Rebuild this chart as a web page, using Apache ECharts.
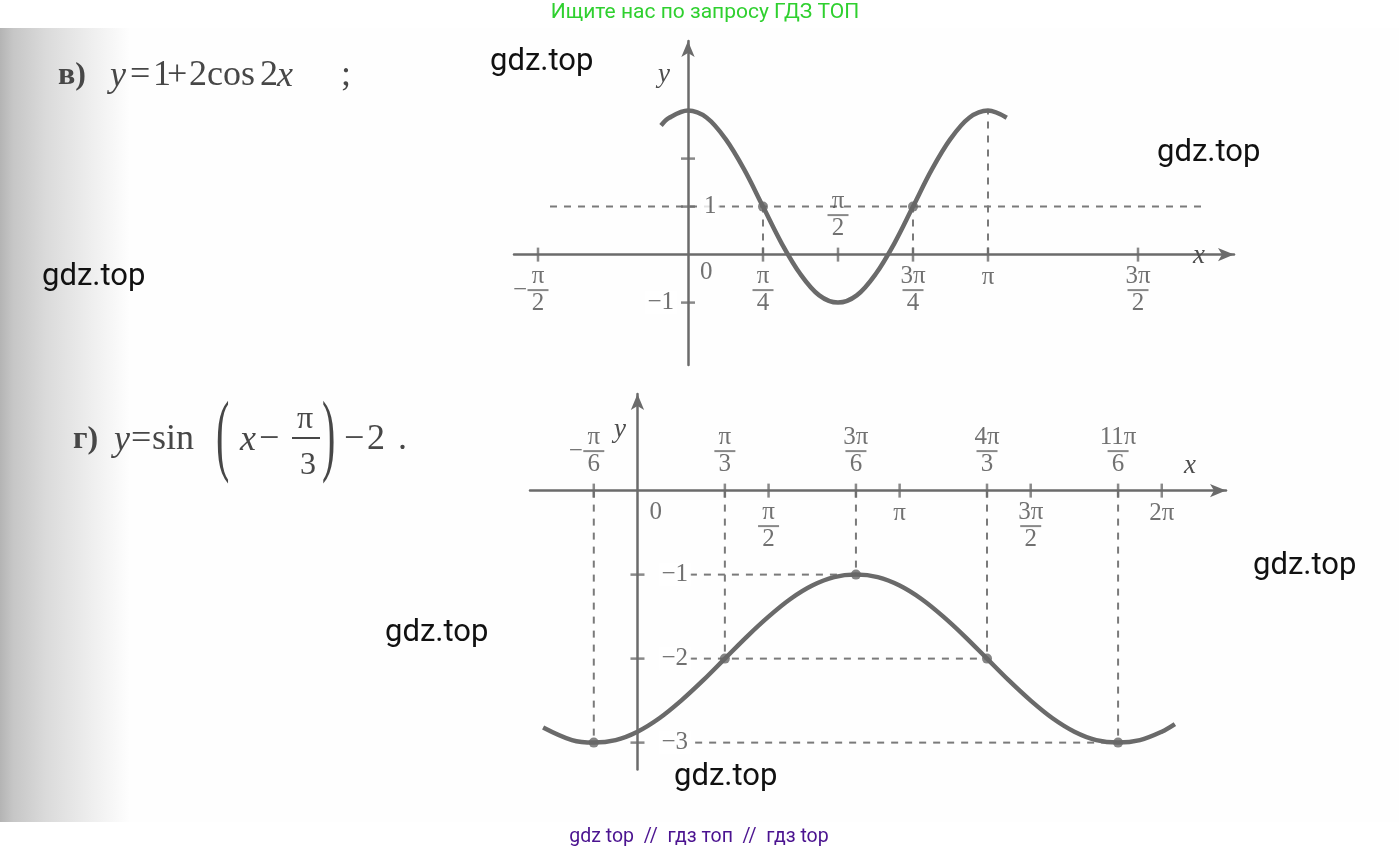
<!DOCTYPE html>
<html><head><meta charset="utf-8">
<script src="https://cdn.jsdelivr.net/npm/echarts@6/dist/echarts.min.js"></script>
<style>html,body{margin:0;padding:0;background:#fff}#c{width:1399px;height:854px}</style>
</head><body><div id="c"></div>
<script>
// ---------- data (x in units of π) ----------
const topCurveX = [-0.09,-0.0625,0,0.0625,0.125,0.1875,0.25,0.3125,0.375,0.4375,0.5,0.5625,0.625,0.6875,0.75,0.8125,0.875,0.9375,1,1.0625];
const topCurveY = [2.69,2.85,3,2.85,2.41,1.77,1,0.23,-0.41,-0.85,-1,-0.85,-0.41,0.23,1,1.77,2.41,2.85,3,2.85];
const topTickX = [-0.5,0.25,0.5,0.75,1,1.5];
const topTickText = ['-π/2','π/4','π/2','3π/4','π','3π/2'];
const topTickSide = ['b','b','t','b','b','b'];
const topYTicks = [2,1,-1];
const topYText = ['','1','-1'];
const topYSide = ['r','r','l'];
const topDotX = [0.25,0.75];
const topDotY = [1,1];
const topGuides = [[-0.46,1,1.71,1],[1,0,1,3],[0.25,0,0.25,1],[0.75,0,0.75,1]];

const botCurveX = [-0.36,-0.25,-0.1667,-0.0833,0,0.0833,0.1667,0.25,0.3333,0.4167,0.5,0.5833,0.6667,0.75,0.8333,0.9167,1,1.0833,1.1667,1.25,1.3333,1.4167,1.5,1.5833,1.6667,1.75,1.8333,1.9167,2,2.05];
const botCurveY = [-2.82,-2.97,-3,-2.97,-2.87,-2.71,-2.5,-2.26,-2,-1.74,-1.5,-1.29,-1.13,-1.03,-1,-1.03,-1.13,-1.29,-1.5,-1.74,-2,-2.26,-2.5,-2.71,-2.87,-2.97,-3,-2.97,-2.87,-2.78];
const botTickX = [-1/6,1/3,1/2,5/6,1,4/3,3/2,11/6,2];
const botTickText = ['-π/6','π/3','π/2','3π/6','π','4π/3','3π/2','11π/6','2π'];
const botTickSide = ['t','t','b','t','b','t','b','t','b'];
const botYTicks = [-1,-2,-3];
const botYText = ['-1','-2','-3'];
const botYSide = ['r','r','r'];
const botDotX = [-1/6,1/3,5/6,4/3,11/6];
const botDotY = [-3,-2,-1,-2,-3];
const botGuides = [[-1/6,0,-1/6,-3],[1/3,0,1/3,-2],[5/6,0,5/6,-1],[4/3,0,4/3,-2],[11/6,0,11/6,-3],
                   [0.2,-1,5/6,-1],[0.2,-2,4/3,-2],[0.22,-3,11/6,-3]];

// ---------- styling ----------
const SERIF = '"Liberation Serif","DejaVu Serif",serif';
const INK = '#4e4e4e';
const LINE = '#6b6b6b';
const TITLE = '#474747';
const rich = {
  n:{fontFamily:SERIF,fontSize:25,color:INK,lineHeight:22},
  d:{fontFamily:SERIF,fontSize:25,color:INK,lineHeight:22},
  bar:{width:21,height:2,backgroundColor:'#6a6a6a',lineHeight:5},
  m:{fontFamily:SERIF,fontSize:25,color:INK,width:15,lineHeight:5},
  sp:{width:15,lineHeight:5},
  w:{fontFamily:SERIF,fontSize:25,color:INK,lineHeight:24}
};
function fmt(s){
  let neg = s.startsWith('-');
  if (neg) s = s.slice(1);
  if (!s.includes('/')) return '{w|' + (neg?'−':'') + s + '}';
  const [n,d] = s.split('/');
  return '{n|'+n+'}\n' + (neg ? '{m|−}{bar|}{sp|}' : '{bar|}') + '\n{d|'+d+'}';
}

function curve(gi, xs, ys){
  return {type:'line', xAxisIndex:gi, yAxisIndex:gi, data:xs.map((x,i)=>[x,ys[i]]), smooth:0.35,
    symbol:'none', silent:true, z:5, lineStyle:{color:'#6a6a6a', width:4.5}};
}
function guides(gi, segs){
  return segs.map(s=>({type:'line', xAxisIndex:gi, yAxisIndex:gi, data:[[s[0],s[1]],[s[2],s[3]]],
    symbol:'none', silent:true, z:3, lineStyle:{color:'#7a7a7a', width:2, type:[7,7]}}));
}
function dots(gi, xs, ys){
  return {type:'scatter', xAxisIndex:gi, yAxisIndex:gi, data:xs.map((x,i)=>[x,ys[i]]), symbolSize:10,
    silent:true, z:6, itemStyle:{color:'#666'}};
}
function xTicks(gi, xs, texts, sides){
  return {type:'scatter', xAxisIndex:gi, yAxisIndex:gi, symbol:'rect', symbolSize:[2.5,14], silent:true, z:4,
    itemStyle:{color:LINE},
    data:xs.map((x,i)=>({value:[x,0], name:texts[i],
      label:{show:true, position: sides[i]==='t'?'top':'bottom', distance: sides[i]==='t'?8:4,
        formatter:fmt(texts[i]), rich:rich}}))};
}
function yTicks(gi, ys, texts, sides){
  return {type:'scatter', xAxisIndex:gi, yAxisIndex:gi, symbol:'rect', symbolSize:[14,2.5], silent:true, z:4,
    itemStyle:{color:LINE},
    data:ys.map((y,i)=>({value:[0,y], name:texts[i],
      label:{show:texts[i]!=='', position: sides[i]==='l'?'left':'right', distance: sides[i]==='l'?4:(gi===0?6:14),
        formatter:fmt(texts[i]||' '), rich:rich, backgroundColor:'#ffffff', padding:[0,3]}}))};
}
function origin(gi, off){
  return {type:'scatter', xAxisIndex:gi, yAxisIndex:gi, symbolSize:0, silent:true, z:4,
    data:[{value:[0,0], label:{show:true, position:off, formatter:'{w|0}', rich:rich}}]};
}
function axisCommon(){
  return {type:'value', axisTick:{show:false}, axisLabel:{show:false}, splitLine:{show:false},
    axisLine:{onZero:true, symbol:['none','arrow'], symbolSize:[10,16], lineStyle:{color:LINE, width:2.5}}};
}

const series = [].concat(
  guides(0, topGuides), [curve(0, topCurveX, topCurveY), dots(0, topDotX, topDotY),
  xTicks(0, topTickX, topTickText, topTickSide), yTicks(0, topYTicks, topYText, topYSide), origin(0,[12,6])],
  guides(1, botGuides), [curve(1, botCurveX, botCurveY), dots(1, botDotX, botDotY),
  xTicks(1, botTickX, botTickText, botTickSide), yTicks(1, botYTicks, botYText, botYSide), origin(1,[12,10])]
);

function piece(x,y,text,font,extra){
  return Object.assign({type:'text', x:x, y:y, z:50,
    style:{text:text, fill:TITLE, font:font, verticalAlign:'middle'}}, extra||{});
}
const R = '36px '+SERIF, I = 'italic 36px '+SERIF, B = 'bold 32px '+SERIF;
const wm = (x,y)=>({type:'text', x:x, y:y, z:100, style:{text:'gdz.top', fill:'#111', font:'31px Roboto', verticalAlign:'middle'}});

const graphic = [
  {type:'rect', z:-100, shape:{x:0,y:28,width:1399,height:794}, style:{fill:'#fefefe'}},
  {type:'rect', z:-99, shape:{x:0,y:28,width:130,height:794}, style:{fill:new echarts.graphic.LinearGradient(0,0,1,0,[
    {offset:0,color:'#b4b4b4'},{offset:0.1,color:'#c6c6c6'},{offset:0.35,color:'#dadada'},{offset:0.7,color:'#eeeeee'},{offset:1,color:'#fefefe'}])}},
  // title в)
  piece(58,76,'в)',B), piece(110,77,'y',I), piece(130,76,'=',R), piece(153,76,'1',R), piece(167,76,'+',R),
  piece(189,76,'2',R), piece(207,76,'cos',R), piece(260,76,'2',R), piece(277,77,'x',I), piece(341,76,';',R),
  // title г)
  piece(73,440,'г)',B), piece(114,441,'y',I), piece(131,440,'=',R), piece(152,440,'sin',R),
  piece(216,440,'(',  '40px '+SERIF, {scaleY:2.3}),
  piece(240,441,'x',I), piece(259,440,'−',R),
  {type:'text', x:305, y:420, z:50, style:{text:'π', fill:TITLE, font:'32px '+SERIF, align:'center', verticalAlign:'middle'}},
  {type:'rect', z:50, shape:{x:292,y:437,width:28,height:2}, style:{fill:TITLE}},
  {type:'text', x:308, y:466, z:50, style:{text:'3', fill:TITLE, font:'32px '+SERIF, align:'center', verticalAlign:'middle'}},
  piece(322,440,')',  '40px '+SERIF, {scaleY:2.3}),
  piece(344,440,'−',R), piece(367,440,'2',R), piece(398,440,'.',R),
  // axis letters
  piece(658,75,'y','italic 27px '+SERIF,{style:{text:'y',fill:INK,font:'italic 27px '+SERIF,verticalAlign:'middle'}}),
  piece(1193,256,'x','',{style:{text:'x',fill:INK,font:'italic 27px '+SERIF,verticalAlign:'middle'}}),
  piece(614,430,'y','',{style:{text:'y',fill:INK,font:'italic 27px '+SERIF,verticalAlign:'middle'}}),
  piece(1184,466,'x','',{style:{text:'x',fill:INK,font:'italic 27px '+SERIF,verticalAlign:'middle'}}),
  // watermarks
  wm(490,62), wm(1157,153), wm(42,277), wm(385,633), wm(1253,566), wm(674,777),
  {type:'text', x:705, y:13, z:100, style:{text:'Ищите нас по запросу ГДЗ ТОП', fill:'#2fd02f', font:'21px Roboto', align:'center', verticalAlign:'middle'}},
  {type:'text', x:699, y:837, z:100, style:{text:'gdz top  //  гдз топ  //  гдз top', fill:'#4b1390', font:'19.5px Roboto', align:'center', verticalAlign:'middle'}}
];

const option = {
  animation:false,
  backgroundColor:'#ffffff',
  grid:[{left:514, top:41, width:720, height:324}, {left:530, top:394, width:696, height:375.5}],
  xAxis:[Object.assign(axisCommon(),{gridIndex:0, min:-0.58, max:1.82}), Object.assign(axisCommon(),{gridIndex:1, min:-0.41, max:2.245})],
  yAxis:[Object.assign(axisCommon(),{gridIndex:0, min:-2.3, max:4.45}), Object.assign(axisCommon(),{gridIndex:1, min:-3.32, max:1.15})],
  graphic:graphic,
  series:series
};
const chart = echarts.init(document.getElementById('c'));
chart.setOption(option);
</script></body></html>
